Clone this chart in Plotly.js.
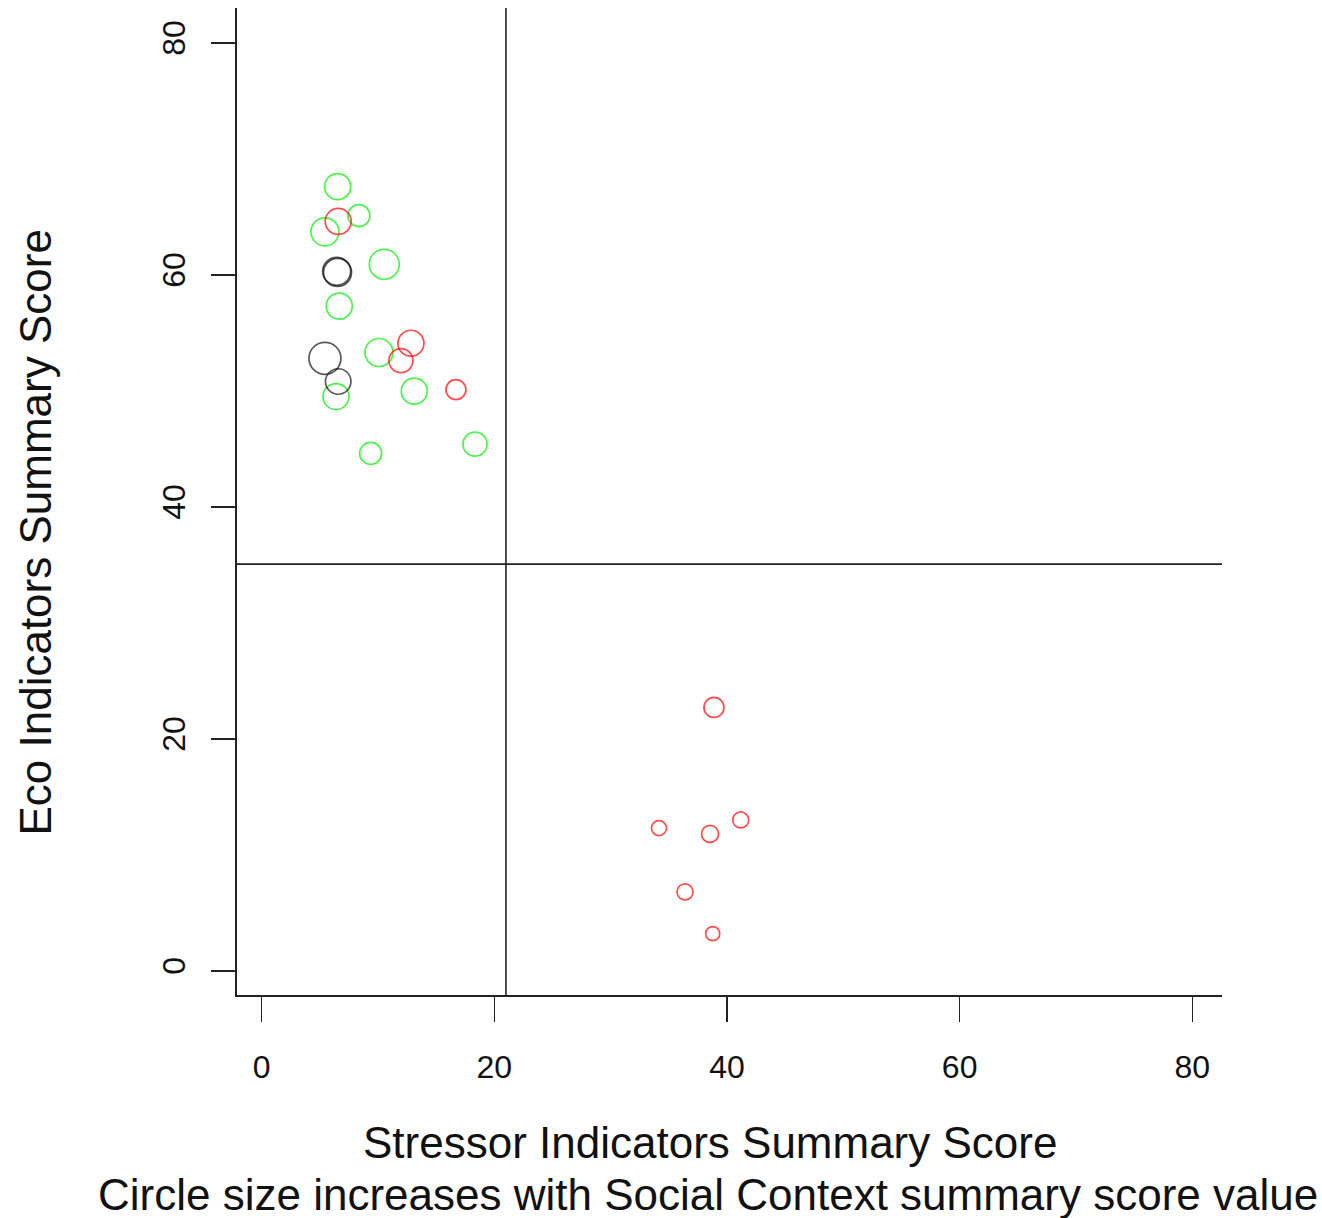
<!DOCTYPE html>
<html>
<head>
<meta charset="utf-8">
<script src="https://cdn.plot.ly/plotly-3.0.1.min.js"></script>
<style>html,body{margin:0;padding:0;background:#fff;}</style>
</head>
<body>
<div id="chart" style="width:1322px;height:1218px;"></div>
<script>
// Stressor (x) vs Eco (y) summary scores; social context score drives circle size
var greenStressor = [6.53, 8.36, 5.44, 10.54, 6.67, 10.08, 13.12, 6.39, 18.34, 9.37];
var greenEco      = [67.6, 65.1, 63.7, 60.9, 57.3, 53.3, 49.97, 49.5, 45.4, 44.6];
var greenSocial   = [52, 44, 56, 60, 52, 56, 52, 52, 48, 44];

var redStressor = [6.58, 12.83, 11.97, 16.70, 38.88, 34.15, 38.54, 41.18, 36.39, 38.77];
var redEco      = [64.6, 54.1, 52.6, 50.1, 22.7, 12.3, 11.8, 13.0, 6.8, 3.2];
var redSocial   = [52, 52, 48, 40, 40, 30, 34, 32, 32, 28];

var blackStressor = [6.45, 6.52, 5.44, 6.58];
var blackEco      = [60.3, 60.2, 52.8, 50.8];
var blackSocial   = [56, 56, 64, 51];

var xTicks = [0, 20, 40, 60, 80];
var yTicks = [0, 20, 40, 60, 80];
var stressorCut = 21.0;
var ecoCut = 35.06;

function sz(arr){ return arr.map(function(v){ return v / 2; }); }

function trace(x, y, s, color){
  return {
    type: 'scatter', mode: 'markers', x: x, y: y, hoverinfo: 'skip',
    marker: { symbol: 'circle-open', size: sz(s), color: color, line: { width: 1.7, color: color } }
  };
}

var data = [
  trace(greenStressor, greenEco, greenSocial, '#00EE00'),
  trace(redStressor, redEco, redSocial, '#FF0000'),
  trace(blackStressor, blackEco, blackSocial, '#111111')
];

var fontFam = 'Liberation Sans, Arial, sans-serif';
var axisCol = '#222222';

var layout = {
  width: 1322, height: 1218,
  margin: { l: 237, r: 100, t: 8, b: 223, pad: 0 },
  paper_bgcolor: '#ffffff', plot_bgcolor: '#ffffff',
  showlegend: false,
  font: { family: fontFam, color: '#111111' },
  xaxis: {
    range: [-2.12, 82.55], tickvals: xTicks, ticktext: xTicks.map(String),
    ticks: 'outside', ticklen: 25, tickwidth: 1.5, tickcolor: axisCol,
    showline: true, linecolor: axisCol, linewidth: 2,
    showgrid: false, zeroline: false,
    tickfont: { size: 32, family: fontFam, color: '#111111' },
    ticklabelstandoff: 18
  },
  yaxis: {
    range: [-2.09, 83.0], tickvals: yTicks, ticktext: yTicks.map(String),
    ticks: 'outside', ticklen: 24, tickwidth: 1.5, tickcolor: axisCol,
    showline: true, linecolor: axisCol, linewidth: 2,
    showgrid: false, zeroline: false, tickangle: -90,
    tickfont: { size: 32, family: fontFam, color: '#111111' },
    ticklabelstandoff: 13
  },
  shapes: [
    { type: 'line', xref: 'x', yref: 'paper', x0: stressorCut, x1: stressorCut, y0: 0, y1: 1,
      line: { color: axisCol, width: 1.6 } },
    { type: 'line', xref: 'paper', yref: 'y', x0: 0, x1: 1, y0: ecoCut, y1: ecoCut,
      line: { color: axisCol, width: 1.6 } }
  ],
  annotations: [
    { text: 'Eco Indicators Summary Score', xref: 'paper', yref: 'paper',
      x: -0.205, y: 0.4686, xanchor: 'center', yanchor: 'middle', textangle: -90,
      showarrow: false, font: { size: 44, family: fontFam, color: '#111111' } },
    { text: 'Stressor Indicators Summary Score', xref: 'paper', yref: 'paper',
      x: 0.480, y: -0.149, xanchor: 'center', yanchor: 'middle',
      showarrow: false, font: { size: 44, family: fontFam, color: '#111111' } },
    { text: 'Circle size increases with Social Context summary score value', xref: 'paper', yref: 'paper',
      x: 0.478, y: -0.2026, xanchor: 'center', yanchor: 'middle',
      showarrow: false, font: { size: 44, family: fontFam, color: '#111111' } }
  ]
};

Plotly.newPlot('chart', data, layout, { displayModeBar: false, staticPlot: true });
</script>
</body>
</html>
